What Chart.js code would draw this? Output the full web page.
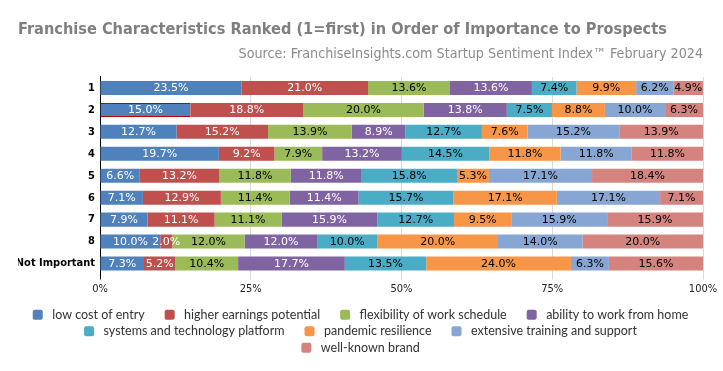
<!DOCTYPE html>
<html>
<head>
<meta charset="utf-8">
<script src="https://cdn.jsdelivr.net/npm/chart.js@4"></script>
<style>
  html, body { margin: 0; padding: 0; background: #fff; }
  #wrap { width: 723px; height: 371px; }
</style>
</head>
<body>
<div id="wrap"><canvas id="chart"></canvas></div>
<script>
// Franchise characteristics ranking - 100% stacked bars
const rankLabels = ['1', '2', '3', '4', '5', '6', '7', '8', 'Not Important'];
const seriesNames = [
  'low cost of entry', 'higher earnings potential', 'flexibility of work schedule',
  'ability to work from home', 'systems and technology platform', 'pandemic resilience',
  'extensive training and support', 'well-known brand'
];
const lowCost        = [23.5, 15.0, 12.7, 19.7, 6.6, 7.1, 7.9, 10.0, 7.3];
const higherEarnings = [21.0, 18.8, 15.2, 9.2, 13.2, 12.9, 11.1, 2.0, 5.2];
const flexibility    = [13.6, 20.0, 13.9, 7.9, 11.8, 11.4, 11.1, 12.0, 10.4];
const workFromHome   = [13.6, 13.8, 8.9, 13.2, 11.8, 11.4, 15.9, 12.0, 17.7];
const systemsTech    = [7.4, 7.5, 12.7, 14.5, 15.8, 15.7, 12.7, 10.0, 13.5];
const pandemic       = [9.9, 8.8, 7.6, 11.8, 5.3, 17.1, 9.5, 20.0, 24.0];
const training       = [6.2, 10.0, 15.2, 11.8, 17.1, 17.1, 15.9, 14.0, 6.3];
const brand          = [4.9, 6.3, 13.9, 11.8, 18.4, 7.1, 15.9, 20.0, 15.6];
const tickLabels = ['0%', '25%', '50%', '75%', '100%'];

const allSeries = [lowCost, higherEarnings, flexibility, workFromHome, systemsTech, pandemic, training, brand];
const COLORS = ['#4F81BD', '#C0504D', '#9BBB59', '#8064A2', '#4BACC6', '#F79646', '#87A6D4', '#D5837F'];
const LABEL_COLORS = ['#fff', '#fff', '#000', '#fff', '#000', '#000', '#000', '#000'];

const NARROW = '"Liberation Sans Narrow", "DejaVu Sans Condensed", sans-serif';
const COND = '"DejaVu Sans Condensed", "DejaVu Sans", sans-serif';

// each row is scaled to 100%, the labels keep the raw values
const rowTotals = rankLabels.map((_, i) => allSeries.reduce((s, arr) => s + arr[i], 0));

const datasets = allSeries.map((arr, k) => ({
  label: seriesNames[k],
  data: arr.map((v, i) => v / rowTotals[i] * 100),
  raw: arr,
  backgroundColor: COLORS[k],
  // the 2nd row's first segment is outlined in red in the original
  borderColor: '#C00000',
  borderWidth: ctx => (ctx.datasetIndex === 0 && ctx.dataIndex === 1) ? { top: 1, bottom: 1, left: 0, right: 0 } : 0,
  borderSkipped: false,
  barPercentage: 0.64,
  categoryPercentage: 1
}));

const segmentLabels = {
  id: 'segmentLabels',
  afterDatasetsDraw(chart) {
    const ctx = chart.ctx;
    ctx.save();
    ctx.font = '11px "DejaVu Sans", sans-serif';
    ctx.textAlign = 'center';
    ctx.textBaseline = 'middle';
    chart.data.datasets.forEach((ds, k) => {
      const meta = chart.getDatasetMeta(k);
      meta.data.forEach((bar, i) => {
        const cx = (bar.x + bar.base) / 2;
        ctx.fillStyle = LABEL_COLORS[k];
        ctx.fillText(ds.raw[i].toFixed(1) + '%', cx, bar.y + 0.5);
      });
    });
    ctx.restore();
  }
};

// legend texts carry trailing spaces for the gaps; recentre the rows
const legendShift = {
  id: 'legendShift',
  afterLayout(chart) {
    if (!chart.legend) return;
    chart.legend.left += 8;
    chart.legend.right += 8;
  }
};

new Chart(document.getElementById('chart'), {
  type: 'bar',
  data: { labels: rankLabels, datasets },
  plugins: [segmentLabels, legendShift],
  options: {
    indexAxis: 'y',
    responsive: true,
    maintainAspectRatio: false,
    animation: false,
    layout: { padding: { left: 18, right: 20, top: 8, bottom: 7 } },
    scales: {
      x: {
        stacked: true,
        min: 0,
        max: 100,
        ticks: {
          stepSize: 25,
          padding: 3,
          color: '#222',
          font: { family: COND, size: 11 },
          callback: (v, i) => tickLabels[i]
        },
        grid: {
          color: ctx => ctx.index === 0 ? '#000' : '#d9d9d9',
          tickLength: 5
        },
        border: { display: false },
        afterFit: scale => { scale.height = 30; }
      },
      y: {
        stacked: true,
        ticks: { padding: 5, color: '#000', font: { family: COND, size: 11, weight: 'bold' } },
        grid: { display: false, drawTicks: false },
        border: { display: true, color: '#000', width: 1 },
        afterFit: scale => { scale.width = 82; }
      }
    },
    plugins: {
      title: {
        display: true,
        text: 'Franchise Characteristics Ranked (1=first) in Order of Importance to Prospects',
        align: 'start',
        color: '#7f7f7f',
        font: { family: NARROW, size: 16.2, weight: 'bold' },
        padding: { top: 12, bottom: 6 }
      },
      subtitle: {
        display: true,
        text: 'Source: FranchiseInsights.com Startup Sentiment Index\u2122 February 2024',
        align: 'end',
        color: '#8c8c8c',
        font: { family: NARROW, size: 14.2 },
        padding: { top: 0, bottom: 14.5 }
      },
      legend: {
        position: 'bottom',
        labels: {
          boxWidth: 10,
          boxHeight: 10,
          padding: 4,
          color: '#333',
          useBorderRadius: true,
          borderRadius: 2,
          font: { family: 'Lato, sans-serif', size: 12.5 },
          generateLabels(chart) {
            return Chart.defaults.plugins.legend.labels.generateLabels(chart)
              .map(item => ({ ...item, text: ' ' + item.text + '     ', lineWidth: 0 }));
          }
        }
      },
      tooltip: { enabled: false }
    }
  }
});
</script>
</body>
</html>
